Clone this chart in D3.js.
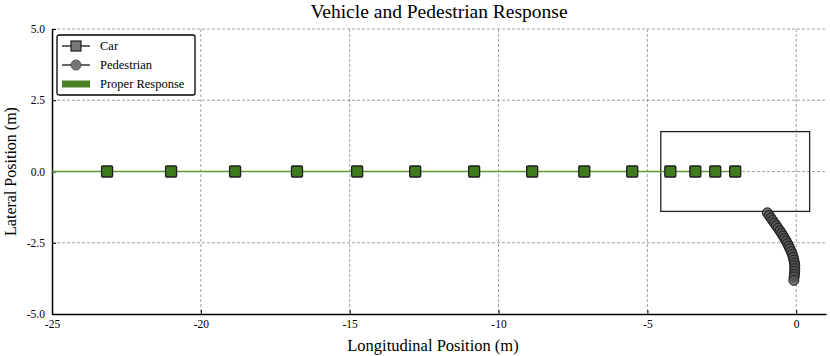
<!DOCTYPE html>
<html>
<head>
<meta charset="utf-8">
<script src="https://cdn.jsdelivr.net/npm/d3@7"></script>
<style>
  body { margin: 0; background: #fff; }
  svg text { font-family: "Times New Roman", "Liberation Serif", Times, serif; }
</style>
</head>
<body>
<div id="chart"></div>
<script>
// car positions along the road (longitudinal, lateral)
var carX = [-23.15, -21.0, -18.85, -16.77, -14.75, -12.8, -10.82, -8.87, -7.12, -5.51, -4.23, -3.39, -2.72, -2.05];
var carY = [0, 0, 0, 0, 0, 0, 0, 0, 0, 0, 0, 0, 0, 0];

// pedestrian track
var pedX = [-0.97, -0.91, -0.85, -0.79, -0.73, -0.67, -0.61, -0.55, -0.49, -0.44, -0.39, -0.34, -0.29, -0.25,
            -0.21, -0.17, -0.13, -0.10, -0.08, -0.06, -0.05, -0.05, -0.05, -0.06, -0.07, -0.08];
var pedY = [-1.45, -1.54, -1.63, -1.72, -1.81, -1.90, -1.99, -2.08, -2.17, -2.26, -2.35, -2.44, -2.53, -2.62,
            -2.71, -2.81, -2.91, -3.01, -3.11, -3.21, -3.31, -3.41, -3.51, -3.61, -3.70, -3.82];

// proper response line
var respX = [-25, -2.05];
var respY = [0, 0];

// car outline at the last position
var boxX = [-4.55, 0.45];
var boxY = [-1.4, 1.4];

var xTicks = [-25, -20, -15, -10, -5, 0];
var yTicks = [-5.0, -2.5, 0.0, 2.5, 5.0];

var margin = { top: 29, right: 4, bottom: 42, left: 52 },
    width = 830 - margin.left - margin.right,
    height = 356 - margin.top - margin.bottom;

var svg = d3.select("#chart")
    .append("svg")
    .attr("width", 830)
    .attr("height", 356)
    .append("g")
    .attr("transform", "translate(" + margin.left + "," + margin.top + ")");

var x = d3.scaleLinear().domain([-25, 1]).range([0, width]);
var y = d3.scaleLinear().domain([-5, 5]).range([height, 0]);

// grid
svg.append("g").selectAll("line")
    .data(xTicks.slice(1))
    .enter().append("line")
    .attr("x1", function(d) { return x(d); })
    .attr("x2", function(d) { return x(d); })
    .attr("y1", 0).attr("y2", height)
    .attr("stroke", "#8a8a8a").attr("stroke-width", 0.8)
    .attr("stroke-dasharray", "3,2");
svg.append("g").selectAll("line")
    .data(yTicks.slice(1))
    .enter().append("line")
    .attr("x1", 0).attr("x2", width)
    .attr("y1", function(d) { return y(d); })
    .attr("y2", function(d) { return y(d); })
    .attr("stroke", "#8a8a8a").attr("stroke-width", 0.8)
    .attr("stroke-dasharray", "3,2");

// axes
var xAxis = svg.append("g")
    .attr("transform", "translate(0," + height + ")")
    .call(d3.axisBottom(x).tickValues(xTicks).tickSizeInner(-4).tickSizeOuter(0).tickPadding(6)
        .tickFormat(function(d) { return d3.format("d")(d).replace("\u2212", "-"); }));
var yAxis = svg.append("g")
    .call(d3.axisLeft(y).tickValues(yTicks).tickSizeInner(-4).tickSizeOuter(0).tickPadding(7)
        .tickFormat(function(d) { return d3.format(".1f")(d).replace("\u2212", "-"); }));
[xAxis, yAxis].forEach(function(a) {
    a.attr("font-family", null);
    a.select(".domain").attr("stroke", "#000").attr("stroke-width", 1.5);
    a.selectAll(".tick line").attr("stroke", "#000").attr("stroke-width", 1);
    a.selectAll(".tick text").attr("font-size", 11.5).attr("fill", "#000");
});

// car outline
svg.append("rect")
    .attr("x", x(boxX[0]))
    .attr("y", y(boxY[1]))
    .attr("width", x(boxX[1]) - x(boxX[0]))
    .attr("height", y(boxY[0]) - y(boxY[1]))
    .attr("fill", "none")
    .attr("stroke", "#222")
    .attr("stroke-width", 1.3);

// response line
var respData = respX.map(function(d, i) { return { x: d, y: respY[i] }; });
svg.append("path")
    .datum(respData)
    .attr("fill", "none")
    .attr("stroke", "#5c9a34")
    .attr("stroke-width", 1.6)
    .attr("d", d3.line().x(function(d) { return x(d.x); }).y(function(d) { return y(d.y); }));

// car markers
var carData = carX.map(function(d, i) { return { x: d, y: carY[i] }; });
svg.append("g").selectAll("rect")
    .data(carData)
    .enter().append("rect")
    .attr("x", function(d) { return x(d.x) - 5.5; })
    .attr("y", function(d) { return y(d.y) - 5.5; })
    .attr("width", 11).attr("height", 11)
    .attr("rx", 1)
    .attr("fill", "#3f7a1c")
    .attr("stroke", "#1e1e1e")
    .attr("stroke-width", 1.3);

// pedestrian markers
var pedData = pedX.map(function(d, i) { return { x: d, y: pedY[i] }; });
svg.append("g").selectAll("circle")
    .data(pedData)
    .enter().append("circle")
    .attr("cx", function(d) { return x(d.x); })
    .attr("cy", function(d) { return y(d.y); })
    .attr("r", 5)
    .attr("fill", "#555")
    .attr("fill-opacity", 0.8)
    .attr("stroke", "#1a1a1a")
    .attr("stroke-width", 1);

// legend
var legend = svg.append("g").attr("transform", "translate(5,6)");
legend.append("rect")
    .attr("width", 138).attr("height", 60)
    .attr("rx", 2)
    .attr("fill", "#fff")
    .attr("stroke", "#000")
    .attr("stroke-width", 1.3);
var items = ["Car", "Pedestrian", "Proper Response"];
items.forEach(function(name, i) {
    var ly = 11 + i * 19;
    var g = legend.append("g").attr("transform", "translate(0," + ly + ")");
    if (i < 2) {
        g.append("line").attr("x1", 5).attr("x2", 33).attr("y1", 0).attr("y2", 0)
            .attr("stroke", "#000").attr("stroke-width", 1.2);
        if (i == 0) {
            g.append("rect").attr("x", 14).attr("y", -5).attr("width", 10).attr("height", 10)
                .attr("fill", "#777").attr("stroke", "#222").attr("stroke-width", 1.2);
        } else {
            g.append("circle").attr("cx", 19).attr("cy", 0).attr("r", 5)
                .attr("fill", "#777").attr("stroke", "#555").attr("stroke-width", 1);
        }
    } else {
        g.append("line").attr("x1", 5).attr("x2", 33).attr("y1", 0).attr("y2", 0)
            .attr("stroke", "#4a7f25").attr("stroke-width", 7);
    }
    g.append("text").attr("x", 43).attr("y", 4)
        .attr("font-size", 12.5)
        .text(name);
});

// title and labels
svg.append("text")
    .attr("x", width / 2)
    .attr("y", -11)
    .attr("text-anchor", "middle")
    .attr("font-size", 19.5)
    .text("Vehicle and Pedestrian Response");
svg.append("text")
    .attr("x", width / 2 - 6)
    .attr("y", height + 37)
    .attr("text-anchor", "middle")
    .attr("font-size", 16.5)
    .text("Longitudinal Position (m)");
svg.append("text")
    .attr("transform", "rotate(-90)")
    .attr("x", -height / 2)
    .attr("y", -36)
    .attr("text-anchor", "middle")
    .attr("font-size", 16)
    .text("Lateral Position (m)");
</script>
</body>
</html>
